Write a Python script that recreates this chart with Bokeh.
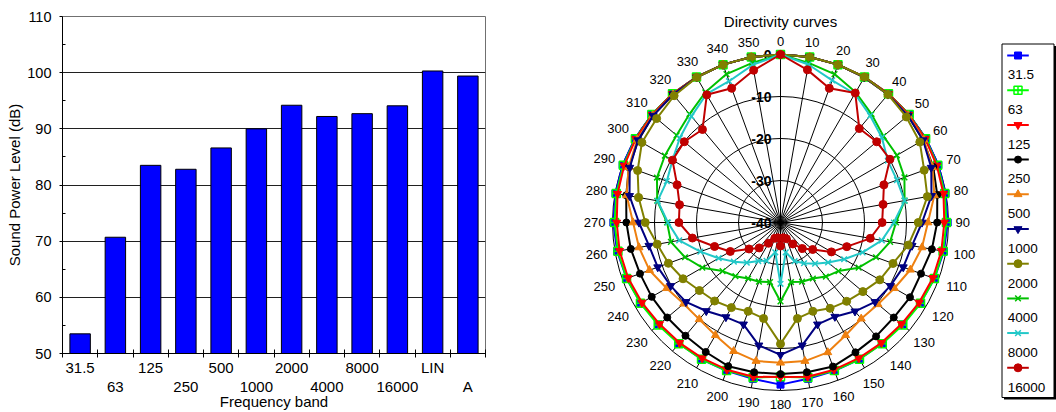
import math
from bokeh.plotting import figure
from bokeh.layouts import row
from bokeh.models import FixedTicker, LinearAxis, Range1d
from bokeh.core.properties import value
from bokeh.embed import file_html
from bokeh.resources import INLINE

FONT = "Liberation Sans"

# ---------------- data ----------------
BANDS = ["31.5", "63", "125", "250", "500", "1000", "2000", "4000", "8000", "16000", "LIN", "A"]
SWL = [53.5, 70.7, 83.5, 82.8, 86.6, 90.0, 94.2, 92.2, 92.7, 94.1, 100.3, 99.4]
Y_TICKS = [50, 60, 70, 80, 90, 100, 110]

ANGLES = [0, 10, 20, 30, 40, 50, 60, 70, 80, 90, 100, 110, 120, 130, 140, 150, 160, 170,
          180, 190, 200, 210, 220, 230, 240, 250, 260, 270, 280, 290, 300, 310, 320, 330, 340, 350]
ANGLE_LABELS = ["0", "10", "20", "30", "40", "50", "60", "70", "80", "90", "100", "110", "120",
                "130", "140", "150", "160", "170", "180", "190", "200", "210", "220", "230", "240",
                "250", "260", "270", "280", "290", "300", "310", "320", "330", "340", "350"]
RING_DB = [-40, -30, -20, -10, 0]
SERIES_NAMES = ["31.5", "63", "125", "250", "500", "1000", "2000", "4000", "8000", "16000"]

D_31_5 = [0, 0, 0, 0, 0, 0, 0, 0, -0.1, -0.2, -0.5, -1.0, -1.6, -2.2, -2.4, -2.4, -2.4, -2.2,
          -1.4, -2.2, -2.4, -2.4, -2.4, -2.2, -1.6, -1.0, -0.5, -0.2, -0.1, 0, 0, 0, 0, 0, 0, 0]
D_63 = [0, 0, 0, 0, 0, 0, -0.1, -0.2, -0.3, -0.5, -0.7, -1.0, -1.5, -2.0, -2.3, -2.4, -2.5, -2.5,
        -3.3, -2.5, -2.5, -2.4, -2.3, -2.0, -1.5, -1.0, -0.7, -0.5, -0.3, -0.2, -0.1, 0, 0, 0, 0, 0]
D_125 = [0, 0, 0, 0, 0, -0.1, -0.2, -0.4, -0.6, -1.0, -1.1, -1.4, -1.9, -2.4, -2.6, -2.7, -2.7, -2.7,
         -3.2, -2.7, -2.7, -2.7, -2.6, -2.4, -1.9, -1.4, -1.1, -1.0, -0.6, -0.4, -0.2, -0.1, 0, 0, 0, 0]
D_250 = [0, 0, 0, -0.1, -0.2, -0.4, -0.8, -1.3, -2.1, -2.7, -3.4, -4.4, -4.4, -4.8, -4.6, -4.3, -3.5, -3.8,
         -3.9, -3.8, -3.6, -4.4, -4.8, -4.8, -4.6, -4.4, -3.8, -3.3, -2.7, -1.6, -0.9, -0.4, -0.2, -0.1, 0, 0]
D_500 = [0, 0, 0, -0.1, -0.2, -0.3, -0.6, -1.5, -2.8, -4.9, -5.8, -7.1, -8.7, -9.7, -10.1, -9.0, -7.1, -6.5,
         -6.6, -6.5, -7.4, -9.0, -9.9, -9.9, -8.7, -6.8, -5.8, -4.9, -2.8, -1.5, -0.6, -0.3, -0.2, -0.1, 0, 0]
D_1000 = [0, 0, 0, -0.1, -0.2, -0.4, -0.8, -1.8, -3.5, -6.3, -8.2, -8.9, -9.8, -10.6, -12.4, -14.1, -14.2, -10.3,
          -8.5, -10.3, -14.2, -14.0, -12.5, -10.6, -9.8, -8.9, -8.2, -6.3, -3.5, -1.8, -0.8, -0.4, -0.2, -0.1, 0, 0]
D_2000 = [0, 0, 0, 0, -0.2, -0.9, -1.7, -3.6, -4.5, -7.2, -9.1, -11.5, -12.7, -14.4, -15.5, -16.4, -17.5, -16.8,
          -11.1, -16.8, -17.5, -16.6, -15.6, -14.8, -13.2, -11.6, -10.2, -7.8, -5.7, -3.8, -1.9, -1.5, -0.6, -0.1, 0, 0]
D_4000 = [0, -1.4, -2.4, -4.2, -6.3, -8.0, -8.0, -8.6, -10.0, -12.5, -13.5, -15.8, -18.5, -22.0, -23.2, -24.6, -25.0, -25.6,
          -21.2, -25.6, -25.0, -24.6, -23.3, -22.0, -18.5, -15.8, -13.5, -13.0, -10.2, -8.7, -8.2, -7.7, -6.3, -4.2, -2.4, -1.4]
D_8000 = [0, -1.8, -4.0, -4.6, -6.8, -8.5, -10.5, -10.5, -10.0, -13.0, -15.5, -19.2, -22.5, -25.2, -27.2, -28.8, -30.2, -32.8,
          -25.4, -32.8, -30.3, -29.4, -27.5, -25.5, -23.0, -19.7, -15.5, -13.2, -10.3, -11.2, -10.3, -8.7, -7.0, -4.7, -4.2, -1.9]
D_16000 = [0, -3.1, -6.0, -4.4, -10.8, -10.1, -9.9, -13.8, -15.2, -15.8, -18.3, -23.2, -26.0, -30.0, -31.9, -34.1, -35.9, -36.3,
           -34.4, -36.3, -36.0, -34.3, -32.1, -30.2, -26.2, -23.3, -18.7, -15.8, -15.6, -13.8, -10.3, -10.1, -11.1, -4.9, -6.0, -3.2]

SERIES = [D_31_5, D_63, D_125, D_250, D_500, D_1000, D_2000, D_4000, D_8000, D_16000]

# ---------------- styles ----------------
STYLES = [
    dict(color="#0000FF", marker="square", size=7, fill=True),
    dict(color="#00FF00", marker="square_cross", size=8, fill=False),
    dict(color="#FF0000", marker="inverted_triangle", size=8, fill=True),
    dict(color="#000000", marker="circle", size=7, fill=True),
    dict(color="#EE8010", marker="triangle", size=8, fill=True),
    dict(color="#000080", marker="inverted_triangle", size=8, fill=True),
    dict(color="#808000", marker="circle", size=8, fill=True),
    dict(color="#00C000", marker="x", size=8, fill=False),
    dict(color="#22C8C8", marker="x", size=8, fill=False),
    dict(color="#C00000", marker="circle", size=8, fill=True),
]

H = 412

# ---------------- bar chart ----------------
p1 = figure(width=548, height=H, x_range=Range1d(0, 24), y_range=Range1d(50, 110),
            output_backend="svg", toolbar_location=None, frame_align=False,
            min_border_left=62, min_border_right=63, min_border_top=16, min_border_bottom=0)
p1.background_fill_color = "white"
p1.outline_line_color = "#707070"

centers = [2 * i + 1 for i in range(len(BANDS))]
p1.vbar(x=centers, top=SWL, bottom=Y_TICKS[0], width=1.16,
        fill_color="#0000FF", line_color="black", line_width=1)

xa = p1.xaxis[0]
xa.ticker = FixedTicker(ticks=centers[0::2], minor_ticks=list(range(0, 25, 2)))
xa.major_label_overrides = {c: BANDS[i] for i, c in enumerate(centers) if i % 2 == 0}
xa.major_tick_line_color = None
xa.major_tick_in = 0
xa.major_tick_out = 0
xa.minor_tick_in = 4
xa.minor_tick_out = 4
xa.minor_tick_line_color = "black"
xa.axis_line_color = "black"
xa.major_label_standoff = 1
xa.major_label_text_font = FONT
xa.major_label_text_font_size = "15px"
xa.major_label_text_color = "black"

xb = LinearAxis(ticker=FixedTicker(ticks=centers[1::2], minor_ticks=[]))
xb.major_label_overrides = {c: BANDS[i] for i, c in enumerate(centers) if i % 2 == 1}
xb.axis_line_color = None
xb.major_tick_line_color = None
xb.minor_tick_line_color = None
xb.major_tick_out = 0
xb.major_tick_in = 0
xb.major_label_standoff = -1
xb.major_label_text_font = FONT
xb.major_label_text_font_size = "15px"
xb.major_label_text_color = "black"
xb.axis_label = "Frequency band"
xb.axis_label_standoff = -5
xb.axis_label_text_font = FONT
xb.axis_label_text_font_size = "15px"
xb.axis_label_text_font_style = "normal"
xb.axis_label_text_color = "black"
p1.add_layout(xb, "below")

ya = p1.yaxis[0]
ya.ticker = FixedTicker(ticks=Y_TICKS, minor_ticks=[55, 65, 75, 85, 95, 105])
ya.major_tick_in = 0
ya.major_tick_out = 3
ya.minor_tick_in = 3
ya.minor_tick_out = 0
ya.axis_line_color = "black"
ya.major_tick_line_color = "black"
ya.minor_tick_line_color = "black"
ya.major_label_standoff = 8
ya.major_label_text_font = FONT
ya.major_label_text_font_size = "14.5px"
ya.major_label_text_color = "black"
ya.axis_label = "Sound Power Level (dB)"
ya.axis_label_standoff = 1
ya.axis_label_text_font = FONT
ya.axis_label_text_font_size = "15px"
ya.axis_label_text_font_style = "normal"
ya.axis_label_text_color = "black"

p1.xgrid.visible = False
p1.ygrid.ticker = FixedTicker(ticks=Y_TICKS)
p1.ygrid.grid_line_color = "#202020"
p1.ygrid.grid_line_width = 1

# ---------------- polar chart ----------------
S = 4.2  # px per dB
CX, CY = 232, 222
PW = 442
p2 = figure(width=PW, height=H, x_range=Range1d(-CX / S, (PW - CX) / S),
            y_range=Range1d(-(H - CY) / S, CY / S), min_border=0, frame_align=False,
            output_backend="svg", toolbar_location=None,
            x_axis_type=None, y_axis_type=None)
p2.outline_line_color = None
p2.grid.visible = False

R0 = -RING_DB[0]
rings = [d + R0 for d in RING_DB if d + R0 > 0]
p2.circle(x=[0] * len(rings), y=[0] * len(rings), radius=rings,
          fill_color=None, line_color="black", line_width=1)
rad = [math.radians(a) for a in ANGLES]
p2.segment(x0=[0] * len(rad), y0=[0] * len(rad),
           x1=[R0 * math.sin(t) for t in rad], y1=[R0 * math.cos(t) for t in rad],
           line_color="black", line_width=1)

p2.text(x=[0] * len(RING_DB), y=[d + R0 for d in RING_DB], text=[str(d) for d in RING_DB],
        x_offset=-9, text_align="right", text_baseline="middle",
        text_font=value(FONT), text_font_style="bold", text_font_size="14px", text_color="black")

# angle labels
lx, ly = [], []
for a, lab in zip(ANGLES, ANGLE_LABELS):
    t = math.radians(a)
    w = 7.2 * len(lab)
    off = 7 + (w / 2) * abs(math.sin(t)) + 6.5 * abs(math.cos(t))
    rr = (R0 * S + off) / S
    lx.append(rr * math.sin(t))
    ly.append(rr * math.cos(t))
p2.text(x=lx, y=ly, text=ANGLE_LABELS, text_align="center", text_baseline="middle",
        text_font=value(FONT), text_font_size="13px", text_color="black")

p2.text(x=[0], y=[(CY - 21) / S], text=["Directivity curves"], text_align="center",
        text_baseline="middle", text_font=value(FONT), text_font_size="15px", text_color="black")

for vals, st in zip(SERIES, STYLES):
    xs = [(v + R0) * math.sin(t) for v, t in zip(vals, rad)]
    ys = [(v + R0) * math.cos(t) for v, t in zip(vals, rad)]
    p2.line(xs + xs[:1], ys + ys[:1], line_color=st["color"], line_width=2)
    if st["fill"]:
        p2.scatter(xs, ys, marker=st["marker"], size=st["size"],
                   fill_color=st["color"], line_color=st["color"])
    else:
        p2.scatter(xs, ys, marker=st["marker"], size=st["size"],
                   fill_color=None, line_color=st["color"], line_width=1.5)

# ---------------- legend ----------------
LW = 66
p3 = figure(width=LW, height=H, x_range=Range1d(0, LW), y_range=Range1d(H, 0),
            min_border=0, output_backend="svg", toolbar_location=None, frame_align=False,
            x_axis_type=None, y_axis_type=None)
p3.outline_line_color = None
p3.grid.visible = False
p3.quad(left=[13.5], right=[65.5], top=[45.5], bottom=[399], fill_color="black", line_color=None)
p3.quad(left=[11.5], right=[63.5], top=[43.5], bottom=[397], fill_color="white",
        line_color="black", line_width=1)
for i, (name, st) in enumerate(zip(SERIES_NAMES, STYLES)):
    ym = 55 + 34.7 * i
    yt = ym + 19.3
    p3.segment(x0=[16.7], y0=[ym], x1=[38.3], y1=[ym], line_color=st["color"], line_width=2)
    if st["fill"]:
        p3.scatter([27.5], [ym], marker=st["marker"], size=st["size"],
                   fill_color=st["color"], line_color=st["color"])
    else:
        p3.scatter([27.5], [ym], marker=st["marker"], size=st["size"],
                   fill_color=None, line_color=st["color"], line_width=1.5)
    p3.text(x=[17.3], y=[yt], text=[name], text_align="left", text_baseline="middle",
            text_font=value(FONT), text_font_size="13.5px", text_color="black")

layout = row(p1, p2, p3)
open("out.html", "w").write(file_html(layout, INLINE))
